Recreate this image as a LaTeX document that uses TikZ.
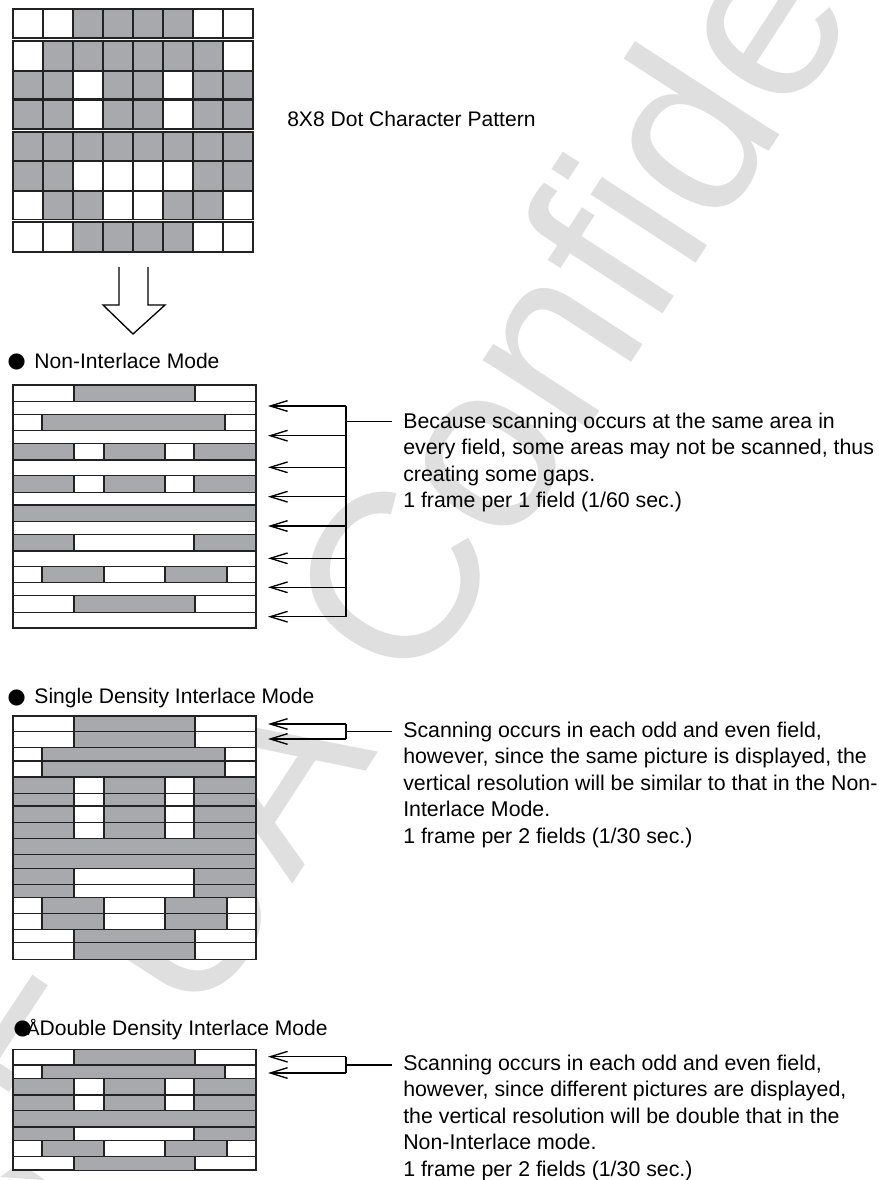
\documentclass[tikz,border=0pt]{standalone}
\usepackage{fontspec}
\setmainfont{Liberation Sans}
\usetikzlibrary{arrows.meta,positioning}
\definecolor{dotgray}{HTML}{A7A9AC}
\definecolor{markgray}{HTML}{DFDFDF}
\definecolor{inkgray}{HTML}{222222}
\tikzset{
    dotcell/.style={draw=inkgray, line width=0.8pt},
    scanline/.style={draw=inkgray, line width=0.9pt},
    scanbar/.style={draw=inkgray, fill=dotgray, line width=1pt},
    frame/.style={draw=inkgray, fill=white, line width=1pt},
    scanarrow/.style={{Straight Barb[length=13pt, width=8pt]}-, line width=1pt, black},
    bus/.style={line width=0.9pt, black},
    note/.style={anchor=north west, inner sep=0pt, align=left, font=\fontsize{16}{19.9}\selectfont},
    heading/.style={anchor=base west, inner sep=0pt, font=\fontsize{15.8}{20}\selectfont},
    watermark/.style={anchor=base west, inner sep=0pt, rotate=57, text=markgray, font=\fontsize{178}{178}\selectfont},
    markband/.style={draw=markgray, line width=14pt}
}
\newcommand{\headdot}{\raisebox{-3.5pt}{\fontsize{28}{28}\selectfont ●}}
% bars of one scan row
\newcommand{\scanrow}[3]{%
    \draw[scanline] (13,#1) -- (256,#1);
    \draw[scanline] (13,#2) -- (256,#2);
    \edef\curpat{#3}
    \foreach \xa/\xb in \curpat {\draw[scanbar] (\xa,#1) rectangle (\xb,#2);}
}
\def\patA{74/195}
\def\patB{42/225}
\def\patC{13/74,104/165,194/256}
\def\patD{13/256}
\def\patE{13/74,194/256}
\def\patF{42/104,165/227}

\begin{document}
\begin{tikzpicture}[x=0.75pt, y=-0.75pt]
\useasboundingbox (0,0) rectangle (878,1180);
\begin{scope}
\clip (0,0) rectangle (878,1180);
\node[watermark] (mark) at (199,1028.7) {UA Confidential};
% stray strokes at the left edge
\coordinate (banda) at (40,980);
\coordinate (bandb) at (-10,1056);
\draw[markband] (banda) -- (bandb);
\coordinate (bandc) at (-10,1068);
\coordinate (bandd) at (14,1084);
\draw[markband] (bandc) -- (bandd);
\fill[markgray] (0,1177) -- (20,1163) -- (45,1180) -- cycle;
\end{scope}

% dot pattern
\foreach \ya/\yb/\cells in {
    9/38/{0,0,1,1,1,1,0,0}, 41/71/{0,1,1,1,1,1,1,0},
    71/99/{1,1,0,1,1,0,1,1}, 100/129/{1,1,0,1,1,0,1,1},
    132/161/{1,1,1,1,1,1,1,1}, 161/191/{1,1,0,0,0,0,1,1},
    191/219.5/{0,1,1,0,0,1,1,0}, 222/252/{0,0,1,1,1,1,0,0}} {
    \foreach \c [count=\k from 0] in \cells {
        \pgfmathsetmacro{\xa}{13+30*\k}
        \ifnum\c=1
            \draw[dotcell, fill=dotgray] (\xa,\ya) rectangle ++(30,\yb-\ya);
        \else
            \draw[dotcell, fill=white] (\xa,\ya) rectangle ++(30,\yb-\ya);
        \fi
    }
}
\node[heading] (pattern) at (287,127) {8X8 Dot Character Pattern};
\draw[line width=1pt, fill=white] (119,267) -- (119,305) -- (103,305) -- (133,334) -- (165,305) -- (148,305) -- (148,267);

% non-interlace
\node[heading] (nonhead) at (5,368) {\headdot\kern5pt Non-Interlace Mode};
\draw[frame] (13,385) rectangle (256,628);
\foreach \ya/\yb/\pat in {385/401.7/\patA, 414.3/430.7/\patB, 443.7/460/\patC, 475.7/492.3/\patC,
    505/521.7/\patD, 534.3/551/\patE, 566.3/582.7/\patF, 595.7/612.3/\patA} {
    \scanrow{\ya}{\yb}{\pat}
}
\foreach \y [count=\i] in {406,435.7,467.3,496.7,526,558.3,587.3,616.7} {
    \coordinate (tipn\i) at (268,\y);
    \coordinate (busn\i) at (346,\y);
    \draw[scanarrow] (tipn\i) -- (busn\i);
}
\draw[bus] (busn1) -- (busn8);
\coordinate (stemn) at (346,421.7);
\coordinate (endn) at (392,421.7);
\draw[bus] (stemn) -- (endn);
\node[note] (nonnote) at (403,412.5) {Because scanning occurs at the same area in\\every field, some areas may not be scanned, thus\\creating some gaps.\\1 frame per 1 field (1/60 sec.)};

% single density
\node[heading] (singlehead) at (5,703.5) {\headdot\kern5pt Single Density Interlace Mode};
\draw[frame] (13,716) rectangle (256,959.3);
\foreach \ya/\yb/\pat in {716/731.7/\patA, 731.7/747.7/\patA, 747.7/761/\patB, 761/777/\patB,
    777/793.3/\patC, 793.3/806/\patC, 806/822.7/\patC, 822.7/838.3/\patC,
    838.3/854.3/\patD, 854.3/868.3/\patD, 868.3/884.3/\patE, 884.3/897.3/\patE,
    897.3/913.3/\patF, 913.3/929.3/\patF, 929.3/942.7/\patA, 942.7/959.3/\patA} {
    \scanrow{\ya}{\yb}{\pat}
}
\coordinate (tips1) at (268,724);
\coordinate (tips2) at (268,739);
\coordinate (buss1) at (346,724);
\coordinate (buss2) at (346,739);
\draw[scanarrow] (tips1) -- (buss1);
\draw[scanarrow] (tips2) -- (buss2);
\draw[bus] (buss1) -- (buss2);
\coordinate (stems) at (346,731.5);
\coordinate (ends) at (392,731.5);
\draw[bus] (stems) -- (ends);
\node[note] (singlenote) at (403,721.5) {Scanning occurs in each odd and even field,\\however, since the same picture is displayed, the\\vertical resolution will be similar to that in the Non-\\Interlace Mode.\\1 frame per 2 fields (1/30 sec.)};

% double density
\node[heading] (doublehead) at (11,1035) {\headdot\kern-5pt{\fontsize{14}{14}\selectfont Å}Double Density Interlace Mode};
\draw[frame] (13,1049.3) rectangle (256,1170);
\foreach \ya/\yb/\pat in {1049.3/1065/\patA, 1065/1078.7/\patB, 1078.7/1095/\patC, 1095/1110.7/\patC,
    1110.7/1127/\patD, 1127/1140.3/\patE, 1140.3/1156.3/\patF, 1156.3/1170.5/\patA} {
    \scanrow{\ya}{\yb}{\pat}
}
\coordinate (tipd1) at (268,1056.7);
\coordinate (tipd2) at (268,1073);
\coordinate (busd1) at (346,1056.7);
\coordinate (busd2) at (346,1073);
\draw[scanarrow] (tipd1) -- (busd1);
\draw[scanarrow] (tipd2) -- (busd2);
\draw[bus] (busd1) -- (busd2);
\coordinate (stemd) at (346,1065);
\coordinate (endd) at (392,1065);
\draw[bus] (stemd) -- (endd);
\node[note] (doublenote) at (403,1054.5) {Scanning occurs in each odd and even field,\\however, since different pictures are displayed,\\the vertical resolution will be double that in the\\Non-Interlace mode.\\1 frame per 2 fields (1/30 sec.)};
\end{tikzpicture}
\end{document}
